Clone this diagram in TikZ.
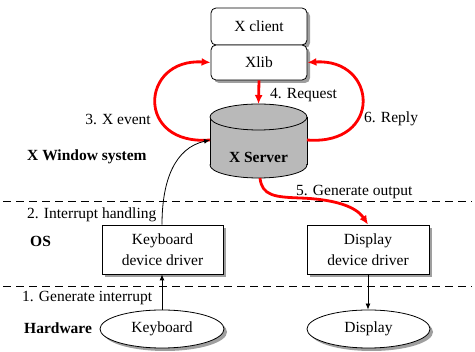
\documentclass[tikz,border=0pt]{standalone}
\usepackage{fontspec}
\setmainfont{Liberation Serif}
\usetikzlibrary{arrows.meta,shadows,shapes.geometric}
\begin{document}
\begin{tikzpicture}[x=1pt,y=-1pt,font=\fontsize{15.5}{21}\selectfont,
  shad/.style={general shadow={fill=gray!75,shadow xshift=3pt,shadow yshift=-3pt}},
  box/.style={draw,fill=white,line width=0.8pt,inner sep=0pt,align=center,shad},
  rbox/.style={box,rounded corners=5pt},
  ell/.style={ellipse,draw,fill=white,line width=0.8pt,inner sep=0pt,shad},
  lbl/.style={inner sep=0pt},
  blbl/.style={inner sep=0pt,font=\fontsize{15.5}{21}\selectfont\bfseries},
  redarr/.style={draw=red,line width=2.8pt,-{Latex[length=9pt,width=8pt]}},
  blkarr/.style={draw=black,line width=0.8pt,-{Latex[length=6pt,width=5pt]}},
  sep/.style={line width=1pt,dash pattern=on 8pt off 5pt}]
\useasboundingbox (0,0) rectangle (475,352);
% layer separators
\coordinate (d1a) at (3,202); \coordinate (d1b) at (472,202);
\coordinate (d2a) at (3,287); \coordinate (d2b) at (472,287);
\draw[sep] (d1a) -- (d1b);
\draw[sep] (d2a) -- (d2b);
% X client / Xlib
\node[rbox,minimum width=96pt,minimum height=37pt] (xc) at (259,26.5) {X client};
\node[rbox,minimum width=96pt,minimum height=35pt] (xlib) at (259,62.5) {Xlib};
% cylinder
\fill[gray!55] (210,117) rectangle (307,165);
\fill[gray!55] (258.5,165) ellipse (48.5 and 13);
\begin{scope}
  \clip (200,165) rectangle (320,185);
  \draw[line width=0.8pt] (258.5,165) ellipse (48.5 and 13);
\end{scope}
\draw[line width=0.8pt] (210,117) -- (210,165) (307,117) -- (307,165);
\filldraw[fill=gray!55,line width=0.8pt] (258.5,117) ellipse (48.5 and 13);
\node[blbl] (xs) at (258.5,157) {X Server};
\coordinate (cl) at (210,140);
\coordinate (cr) at (307,140);
\coordinate (ctop) at (258.5,104);
\coordinate (cbot) at (260,178);
% drivers
\node[box,minimum width=121pt,minimum height=49pt] (kdd) at (162.5,249.5) {Keyboard\\device driver};
\node[box,minimum width=122pt,minimum height=49pt] (ddd) at (368,249.5) {Display\\device driver};
% hardware
\node[ell,minimum width=124pt,minimum height=38pt] (kb) at (162,329) {Keyboard};
\node[ell,minimum width=123pt,minimum height=38pt] (disp) at (368.5,329) {Display};
% labels
\node[lbl,anchor=west] (l4) at (270,95) {4. Request};
\node[lbl,anchor=east] (l3) at (151,119) {3. X event};
\node[lbl,anchor=west] (l6) at (364,119) {6. Reply};
\node[blbl,anchor=west] (lxw) at (27,157) {X Window system};
\node[lbl,anchor=west] (l5) at (296,192) {5. Generate output};
\node[lbl,anchor=west] (l2) at (27,215) {2. Interrupt handling};
\node[blbl,anchor=west] (los) at (30,241) {OS};
\node[lbl,anchor=west] (l1) at (22,298) {1. Generate interrupt};
\node[blbl,anchor=west] (lhw) at (24,328) {Hardware};
% red connectors
\draw[redarr] (xlib.south) -- (ctop);
\draw[redarr] (cl) .. controls (135,146) and (140,58) .. (xlib.west);
\draw[redarr] (cr) .. controls (383,146) and (378,58) .. (xlib.east);
\draw[redarr] (cbot) .. controls (262,196) and (275,197) .. (300,198) .. controls (330,199) and (355,205) .. (ddd.north);
% black connectors
\draw[blkarr] (kdd.north -| 162,0) .. controls (162,180) and (175,148) .. (cl);
\draw[blkarr] (kb.north) -- (kdd.south -| kb.north);
\draw[blkarr] (ddd.south) -- (disp.north -| ddd.south);
\end{tikzpicture}
\end{document}
